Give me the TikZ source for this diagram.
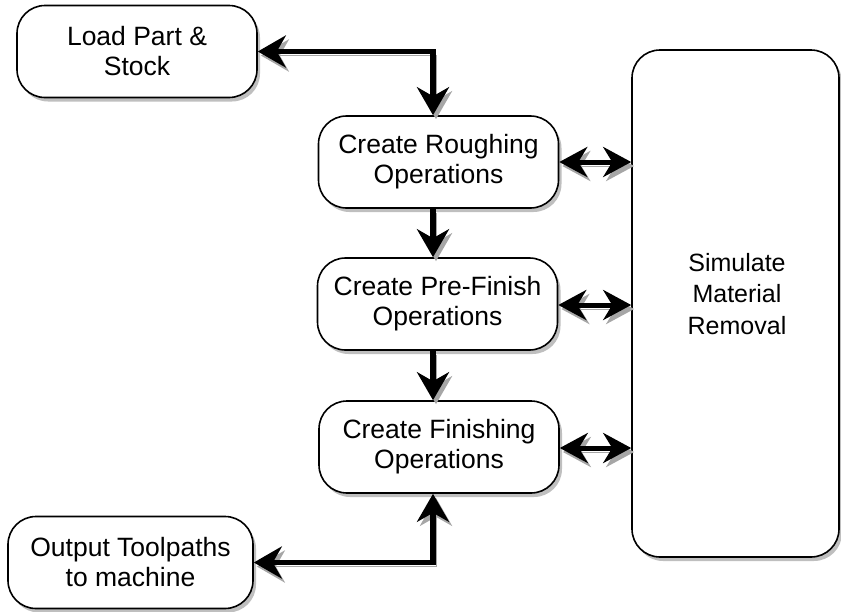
\documentclass[tikz,border=0pt]{standalone}
\usepackage{fontspec}
\setmainfont{Liberation Sans}
\usetikzlibrary{arrows.meta,shadows}
\begin{document}
\begin{tikzpicture}[x=1pt,y=-1pt,
  shad/.style={drop shadow={shadow xshift=3pt, shadow yshift=-4pt, opacity=0.25, fill=black}},
  box/.style={draw, line width=1.6pt, rounded corners=28pt, fill=white,
    minimum width=240pt, minimum height=92pt, inner sep=0pt, align=center,
    font=\fontsize{26.5}{30}\selectfont, shad},
  bighead/.tip={Stealth[length=28pt,width=32pt,inset=9pt]},
  smallhead/.tip={Stealth[length=28pt,width=30pt,inset=9pt]},
  ashad/.style={preaction={draw=black!35, transform canvas={shift={(3pt,-4pt)}}}},
  conn/.style={line width=5.5pt, -{bighead}, ashad},
  conn2/.style={line width=5.5pt, {bighead}-{bighead}, ashad},
  sconn/.style={line width=5pt, {smallhead}-{smallhead}, ashad}
]
\useasboundingbox (0,0) rectangle (841,611);
\node[box] (load) at (137,51.5) {Load Part \&\\Stock};
\node[box] (rough) at (438.5,162) {Create Roughing\\Operations};
\node[box] (pre) at (437.5,304) {Create Pre-Finish\\Operations};
\node[box] (fin) at (439,447) {Create Finishing\\Operations};
\node[box, minimum width=245pt] (out) at (130.5,562.5) {Output Toolpaths\\to machine};
\node[box, minimum width=207pt, minimum height=507pt] (sim) at (735.5,303.5) {};
\node[align=center, font=\fontsize{25}{31.5}\selectfont] (simtext) at (737,294) {Simulate\\Material\\Removal};

\coordinate (c1) at (433,162);
\coordinate (c2) at (433,305);
\coordinate (c3) at (433,448);

\draw[conn2] (rough.north -| c1) |- (load.east);
\draw[conn] (rough.south -| c1) -- (pre.north -| c1);
\draw[conn] (pre.south -| c1) -- (fin.north -| c1);
\draw[conn2] (fin.south -| c1) |- (out.east);
\draw[sconn] (rough.east |- c1) -- (sim.west |- c1);
\draw[sconn] (pre.east |- c2) -- (sim.west |- c2);
\draw[sconn] (fin.east |- c3) -- (sim.west |- c3);
\end{tikzpicture}
\end{document}
